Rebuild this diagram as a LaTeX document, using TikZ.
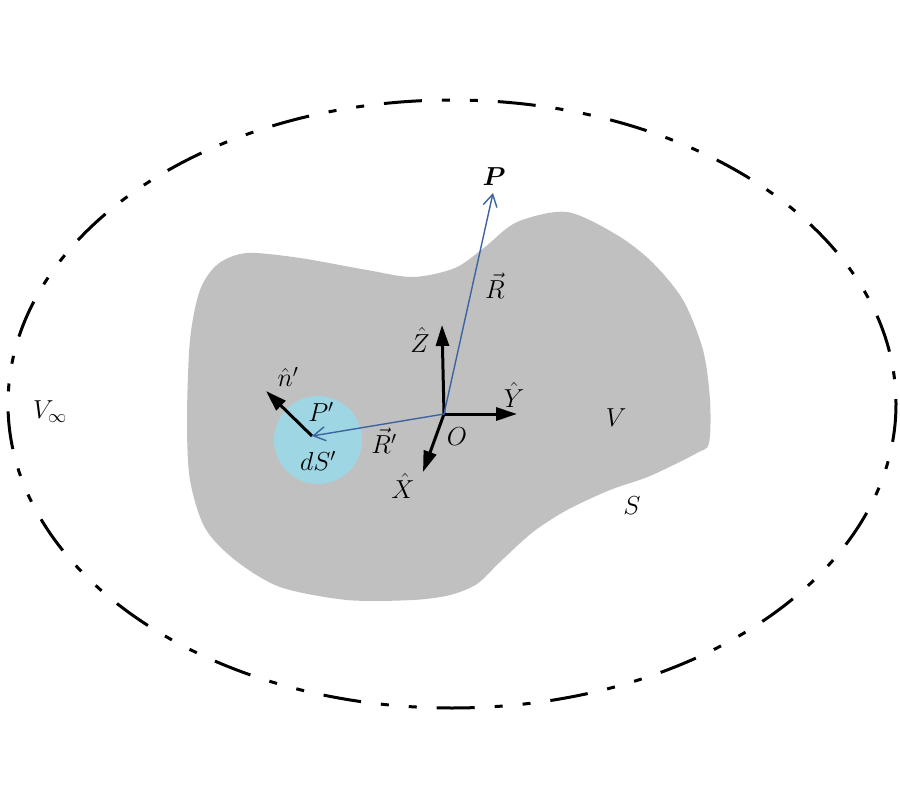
\RequirePackage{fix-cm}
\documentclass[tikz,border=0pt]{standalone}
\usepackage{amsmath}
\usepackage{fontspec}
\setmainfont{Liberation Serif}
\usetikzlibrary{arrows.meta}
\definecolor{blobgray}{RGB}{192,192,192}
\definecolor{cellblue}{RGB}{158,214,228}
\definecolor{vecblue}{RGB}{60,100,160}
\tikzset{
  lbl/.style={font=\fontsize{26}{30}\selectfont, inner sep=1pt},
  axis/.style={line width=3pt, -{Triangle[length=21pt,width=13pt]}},
  posvec/.style={vecblue, line width=1.4pt, -{Straight Barb[length=12pt,width=14pt,line width=1.4pt]}},
  outer/.style={line width=3pt, dash pattern=on 38pt off 20pt on 8pt off 20pt on 8pt off 20pt}
}
\begin{document}
\begin{tikzpicture}[x=1pt,y=-1pt]
\useasboundingbox (0,0) rectangle (900,800);
% outer boundary
\draw[outer] (452,404) ellipse [x radius=444, y radius=304];
% body V
\fill[blobgray] plot[smooth cycle, tension=0.5] coordinates {
 (218,264) (247,253) (300,258) (367,270) (413,277) (455,268) (485,247) (517,222)
 (567,212) (617,235) (652,262) (683,300) (703,350) (710,400) (709,443) (697,453)
 (650,476) (610,490) (567,510) (533,532) (500,562) (477,584) (450,595) (413,600)
 (347,600) (280,587) (235,560) (205,528) (190,480) (187,420) (190,340) (200,290)};
% surface element
\fill[cellblue] (318,440) circle [radius=44];
% coordinates
\coordinate (O) at (444,414);
\coordinate (Pp) at (312,436);
\coordinate (Ptip) at (493,193);
\coordinate (Ztip) at (442,325);
\coordinate (Ytip) at (517,414);
\coordinate (Xtip) at (423,472);
\coordinate (ntip) at (266,391);
% axes
\draw[axis] (O) -- (Ztip);
\draw[axis] (O) -- (Ytip);
\draw[axis] (O) -- (Xtip);
\draw[axis] (Pp) -- (ntip);
% position vectors
\draw[posvec] (O) -- (Ptip);
\draw[posvec] (O) -- (Pp);
% labels
\node[lbl] (lP) at (494,177) {$\boldsymbol{P}$};
\node[lbl] (lR) at (495,286) {$\vec{R}$};
\node[lbl] (lZ) at (420,340) {$\hat{Z}$};
\node[lbl] (lY) at (514,395) {$\hat{Y}$};
\node[lbl] (lO) at (457,437) {$O$};
\node[lbl] (lX) at (403,486) {$\hat{X}$};
\node[lbl] (lRp) at (384,441) {$\vec{R}'$};
\node[lbl] (lPp) at (321,412) {$P'$};
\node[lbl] (ldS) at (318,461) {$dS'$};
\node[lbl] (ln) at (288,377) {$\hat{n}'$};
\node[lbl] (lV) at (616,418) {$V$};
\node[lbl] (lS) at (632,506) {$S$};
\node[lbl] (lVi) at (50,412) {$V_{\infty}$};
\end{tikzpicture}
\end{document}
